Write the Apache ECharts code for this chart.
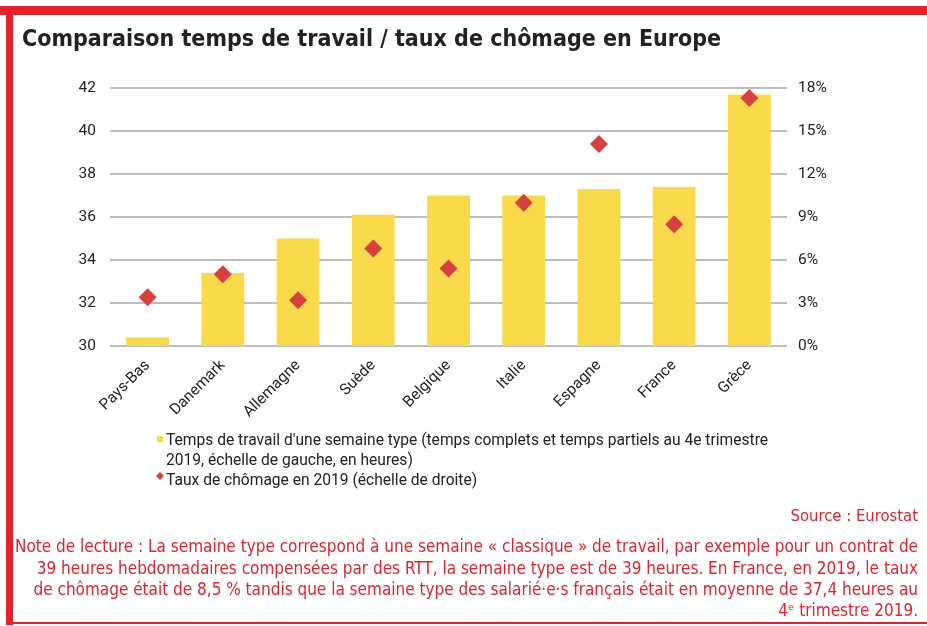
<!DOCTYPE html>
<html>
<head>
<meta charset="utf-8">
<script src="https://cdn.jsdelivr.net/npm/echarts@6/dist/echarts.min.js"></script>
<style>
  html, body { margin: 0; padding: 0; background: #fff; }
  #chart { width: 927px; height: 626px; }
</style>
</head>
<body>
<div id="chart"></div>
<script>
const pays = ["Pays-Bas", "Danemark", "Allemagne", "Suède", "Belgique", "Italie", "Espagne", "France", "Grèce"];
const heures = [30.4, 33.4, 35.0, 36.1, 37.0, 37.0, 37.3, 37.4, 41.7];
const chomage = [3.4, 5.0, 3.2, 6.8, 5.4, 10.0, 14.1, 8.5, 17.3];

const rouge = "#e62129";
const police = "Roboto, sans-serif";
const policeEtroite = "'DejaVu Sans Condensed', 'Liberation Sans Narrow', Roboto, sans-serif";

const noteLignes = [
  "Note de lecture : La semaine type correspond à une semaine « classique » de travail, par exemple pour un contrat de",
  "39 heures hebdomadaires compensées par des RTT, la semaine type est de 39 heures. En France, en 2019, le taux",
  "de chômage était de 8,5 % tandis que la semaine type des salarié·e·s français était en moyenne de 37,4 heures au",
  "4ᵉ trimestre 2019."
];
const noteTops = [539, 561, 582, 603];

let myChart = echarts.init(document.getElementById("chart"));

const graphics = [
  // cadre rouge
  { type: "rect", shape: { x: 0, y: 6, width: 927, height: 9 }, style: { fill: rouge } },
  { type: "rect", shape: { x: 6, y: 6, width: 7, height: 619 }, style: { fill: rouge } },
  { type: "rect", shape: { x: 6, y: 622, width: 921, height: 2 }, style: { fill: rouge } },
  {
    type: "text", left: 22, top: 29,
    style: { text: "Comparaison temps de travail / taux de chômage en Europe", fontSize: 23, fontWeight: "bold", fontFamily: policeEtroite, fill: "#222" }
  },
  // légende
  { type: "rect", shape: { x: 157, y: 436, width: 6, height: 6 }, style: { fill: "#f9da4b" } },
  {
    type: "text", left: 166, top: 431,
    style: {
      text: "Temps de travail d'une semaine type (temps complets et temps partiels au 4e trimestre\n2019, échelle de gauche, en heures)",
      fontSize: 15.6, lineHeight: 20, fontFamily: police, fill: "#222"
    }
  },
  { type: "polygon", shape: { points: [[160, 472], [164, 476], [160, 480], [156, 476]] }, style: { fill: "#d7403c" } },
  {
    type: "text", left: 166, top: 471,
    style: { text: "Taux de chômage en 2019 (échelle de droite)", fontSize: 15.6, lineHeight: 20, fontFamily: police, fill: "#222" }
  },
  // source
  {
    type: "text", right: 9, top: 508,
    style: { text: "Source : Eurostat", fontSize: 16.5, fontFamily: policeEtroite, fill: rouge }
  }
];
// note de lecture, une ligne par élément, alignée à droite
noteLignes.forEach(function (ligne, i) {
  graphics.push({
    type: "text", right: 9, top: noteTops[i],
    style: { text: ligne, fontSize: 17, fontFamily: policeEtroite, fill: rouge }
  });
});

const options = {
  backgroundColor: "#fff",
  animation: false,
  grid: { left: 110, right: 140, top: 88, bottom: 280 },
  xAxis: {
    type: "category",
    data: pays,
    axisLine: { show: false },
    axisTick: { show: false },
    axisLabel: { rotate: 45, color: "#222", fontSize: 15.5, fontFamily: police, margin: 17 }
  },
  yAxis: [
    {
      type: "value",
      min: 30, max: 42, interval: 2,
      axisLine: { show: false },
      axisTick: { show: false },
      axisLabel: { color: "#222", fontSize: 15.5, fontFamily: police, margin: 14 },
      splitLine: { lineStyle: { color: "#a8a8a8", width: 1.5 } }
    },
    {
      type: "value",
      min: 0, max: 18, interval: 3,
      axisLine: { show: false },
      axisTick: { show: false },
      axisLabel: { color: "#222", fontSize: 15.5, fontFamily: police, margin: 11, formatter: "{value}%" },
      splitLine: { show: false }
    }
  ],
  series: [
    {
      name: "Temps de travail",
      type: "bar",
      yAxisIndex: 0,
      barWidth: "57%",
      itemStyle: { color: "#f9da4b" },
      data: heures
    },
    {
      name: "Taux de chômage",
      type: "scatter",
      yAxisIndex: 1,
      symbol: "diamond",
      symbolSize: [18, 18],
      itemStyle: { color: "#d7403c", opacity: 1 },
      data: chomage
    }
  ],
  graphic: graphics
};

myChart.setOption(options);
window.addEventListener("resize", function () {
  myChart.resize();
});
</script>
</body>
</html>
